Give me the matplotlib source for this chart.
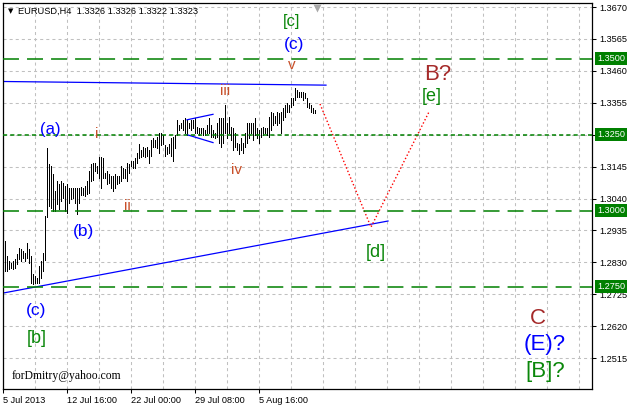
import numpy as np
import matplotlib
matplotlib.use('Agg')
import matplotlib.pyplot as plt
import matplotlib.transforms as mtransforms

plt.rcParams['font.family'] = ['Liberation Sans', 'DejaVu Sans']
plt.rcParams['lines.scale_dashes'] = False

# EURUSD H4 bars, high / low of each bar
highs = [1.2899, 1.2851, 1.2835, 1.2828, 1.2835, 1.2842, 1.2858, 1.2878, 1.2875, 1.2868, 1.2861,
         1.2894, 1.2875, 1.2851, 1.2792, 1.2785, 1.2779, 1.2818, 1.2835, 1.2861, 1.2983,
         1.3205, 1.3155, 1.3148, 1.3122, 1.3066, 1.3099, 1.3089, 1.3099, 1.3092, 1.3082, 1.3089,
         1.3073, 1.3076, 1.3076, 1.3073, 1.3076, 1.3073, 1.3079, 1.3073, 1.3082, 1.3099, 1.3132,
         1.3155, 1.3158,
         1.3158, 1.3148, 1.3175, 1.3175, 1.3172, 1.3125, 1.3132, 1.3122, 1.3115, 1.3115, 1.3122,
         1.3115, 1.3115, 1.3148, 1.3142, 1.3138, 1.3158, 1.3155, 1.3165, 1.3165, 1.3172, 1.3191,
         1.3221, 1.3198, 1.3208, 1.3205, 1.3208, 1.3198, 1.3231, 1.3238,
         1.3231, 1.3241, 1.3254, 1.3257, 1.3248, 1.3215, 1.3208, 1.3221, 1.3238, 1.3241, 1.3248,
         1.3297, 1.3281, 1.3290, 1.3297, 1.3304, 1.3297, 1.3290, 1.3297, 1.3297, 1.3304, 1.3274,
         1.3271, 1.3271, 1.3271, 1.3264, 1.3281, 1.3304,
         1.3281, 1.3264, 1.3254, 1.3290, 1.3304, 1.3304, 1.3304, 1.3347, 1.3290, 1.3307, 1.3274,
         1.3271, 1.3254, 1.3224, 1.3221, 1.3238, 1.3224, 1.3254, 1.3290, 1.3287, 1.3287, 1.3290,
         1.3304, 1.3271, 1.3264, 1.3271, 1.3274,
         1.3271, 1.3271, 1.3307, 1.3323, 1.3320, 1.3313, 1.3323, 1.3320, 1.3323, 1.3337, 1.3347,
         1.3353, 1.3347, 1.3370, 1.3370, 1.3403, 1.3396, 1.3389, 1.3389, 1.3389, 1.3386, 1.3370,
         1.3353, 1.3347, 1.3337, 1.3330]
lows = [1.2802, 1.2802, 1.2809, 1.2812, 1.2809, 1.2812, 1.2825, 1.2842, 1.2835, 1.2845, 1.2835,
        1.2845, 1.2828, 1.2762, 1.2759, 1.2762, 1.2762, 1.2762, 1.2779, 1.2802, 1.2838,
        1.2980, 1.3017, 1.3010, 1.3000, 1.3000, 1.3023, 1.3007, 1.3033, 1.3043, 1.3000, 1.2994,
        1.3026, 1.3040, 1.3043, 1.3026, 1.2990, 1.3026, 1.3050, 1.3053, 1.3047, 1.3056, 1.3059,
        1.3099, 1.3102,
        1.3132, 1.3125, 1.3109, 1.3076, 1.3109, 1.3106, 1.3089, 1.3092, 1.3073, 1.3066, 1.3076,
        1.3089, 1.3092, 1.3099, 1.3109, 1.3109, 1.3099, 1.3125, 1.3148, 1.3142, 1.3142, 1.3158,
        1.3172, 1.3175, 1.3181, 1.3175, 1.3181, 1.3158, 1.3181, 1.3208,
        1.3208, 1.3205, 1.3191, 1.3215, 1.3221, 1.3181, 1.3188, 1.3191, 1.3181, 1.3165, 1.3205,
        1.3248, 1.3264, 1.3271, 1.3264, 1.3254, 1.3248, 1.3271, 1.3264, 1.3271, 1.3257, 1.3254,
        1.3248, 1.3254, 1.3248, 1.3248, 1.3254, 1.3257,
        1.3241, 1.3241, 1.3238, 1.3241, 1.3224, 1.3208, 1.3224, 1.3254, 1.3238, 1.3254, 1.3231,
        1.3198, 1.3208, 1.3198, 1.3188, 1.3198, 1.3191, 1.3208, 1.3224, 1.3238, 1.3254, 1.3231,
        1.3248, 1.3238, 1.3224, 1.3241, 1.3248,
        1.3254, 1.3248, 1.3241, 1.3264, 1.3281, 1.3287, 1.3281, 1.3290, 1.3257, 1.3297, 1.3307,
        1.3323, 1.3323, 1.3340, 1.3347, 1.3363, 1.3373, 1.3373, 1.3373, 1.3363, 1.3370, 1.3340,
        1.3337, 1.3323, 1.3320, 1.3320]

y_ticks = [1.3670, 1.3565, 1.3460, 1.3355, 1.3250, 1.3145, 1.3040, 1.2935, 1.2830,
           1.2725, 1.2620, 1.2515]
x_label_bars = [0, 32, 64, 96, 128]
x_labels = ['5 Jul 2013', '12 Jul 16:00', '22 Jul 00:00', '29 Jul 08:00', '5 Aug 16:00']

levels = [1.3500, 1.3250, 1.3000, 1.2750]
level_styles = ['long', 'short', 'long', 'long']

# trend lines (bar index, price)
resist_x, resist_y = [0, 161.5], [1.3425, 1.3413]
support_x, support_y = [0, 192.5], [1.2729, 1.2966]
wedge_up_x, wedge_up_y = [92, 105], [1.3299, 1.3317]
wedge_dn_x, wedge_dn_y = [92, 105], [1.3250, 1.3224]
forecast_x, forecast_y = [158.5, 184, 213], [1.3351, 1.2946, 1.3325]

blue = '#0000ff'
green = '#0a870a'
brown = '#a52a2a'
roman = '#c8502a'
# wave labels: text, bar, price, colour, size
waves = [
    ('[c]', 144.5, 1.3621, green, 12),
    ('(c)', 145.5, 1.3548, blue, 12.5),
    ('v', 144.5, 1.3480, roman, 11),
    ('iii', 111, 1.3394, roman, 11),
    ('i', 47, 1.3252, roman, 11),
    ('ii', 62, 1.3015, roman, 11),
    ('iv', 117, 1.3134, roman, 11),
    ('(a)', 23.5, 1.3266, blue, 12),
    ('(b)', 40, 1.2930, blue, 12.5),
    ('(c)', 16.5, 1.2670, blue, 12.5),
    ('[b]', 17, 1.2578, green, 13),
    ('[d]', 186.5, 1.2864, green, 13),
    ('B?', 217.5, 1.3449, brown, 16),
    ('[e]', 214.5, 1.3374, green, 13),
    ('C', 267.5, 1.2644, brown, 16),
    ('(E)?', 271, 1.2561, blue, 16),
    ('[B]?', 271, 1.2472, green, 16),
]

fig = plt.figure(figsize=(6.29, 4.07), dpi=100)
ax = fig.add_axes([3 / 629, 1 - 389 / 407, 589 / 629, 386 / 407])
ax.set_xlim(0, 294.5)
ax.set_ylim(1.24134, 1.36832)

# grid
ax.set_xticks(x_label_bars)
ax.set_xticks(np.arange(16, 294, 16), minor=True)
ax.set_xticklabels(x_labels)
for lab in ax.get_xticklabels():
    lab.set_ha('left')
ax.set_yticks(y_ticks)
# the 1.3250 tick label sits under the level box, which shows the same text
ax.set_yticklabels(['' if v in levels else '%.4f' % v for v in y_ticks])
ax.yaxis.tick_right()
ax.grid(which='both', color='#c0c0c0', lw=0.75, linestyle=(0, (2.2, 2.2)))
ax.set_axisbelow(True)
ax.tick_params(axis='x', which='major', length=3, width=0.75, pad=2, labelsize=6.6)
ax.tick_params(axis='x', which='minor', length=0)
ax.tick_params(axis='y', length=3, width=0.75, pad=2, labelsize=6.6)
for sp in ax.spines.values():
    sp.set_linewidth(0.9)

# bars
bars = np.arange(1, len(highs) + 1)
ax.vlines(bars, lows, highs, color='black', lw=0.72, antialiased=False)

# horizontal levels
for lev, st in zip(levels, level_styles):
    ls = (0, (11.5, 5.8)) if st == 'long' else (0, (3.0, 2.2))
    ax.axhline(lev, color='#008000', lw=1.1, linestyle=ls, zorder=3)
    ax.text(1.0 + 5 / 589, lev, '%.4f' % lev,
            transform=mtransforms.blended_transform_factory(ax.transAxes, ax.transData),
            ha='left', va='center', color='white', fontsize=6.6, zorder=10,
            bbox=dict(boxstyle='square,pad=0.22', fc='#008000', ec='none'))

ax.plot(resist_x, resist_y, color=blue, lw=0.9)
ax.plot(support_x, support_y, color=blue, lw=0.9)
ax.plot(wedge_up_x, wedge_up_y, color=blue, lw=0.9)
ax.plot(wedge_dn_x, wedge_dn_y, color=blue, lw=0.9)
ax.plot(forecast_x, forecast_y, color='red', lw=1, linestyle=(0, (1, 1.6)))

for txt, bx, py, col, sz in waves:
    ax.text(bx, py, txt, color=col, fontsize=sz, ha='center', va='center')

ax.text(4.5, 1.2456, 'forDmitry@yahoo.com', family='Liberation Serif', fontsize=8.4,
        ha='left', va='center', color='black')

# chart shift marker at the last bar
ax.plot([157], [0.987], marker='v', ms=6, color='#a8a8a8', clip_on=False,
        transform=mtransforms.blended_transform_factory(ax.transData, ax.transAxes),
        zorder=11, mec='none')

fig.text(8 / 629, 1 - 11 / 407, '\u25bc', family='DejaVu Sans', fontsize=5, va='center')
fig.text(18 / 629, 1 - 11 / 407, 'EURUSD,H4  1.3326 1.3326 1.3322 1.3323',
         fontsize=6.7, va='center')

fig.savefig('out.png', dpi=100)
